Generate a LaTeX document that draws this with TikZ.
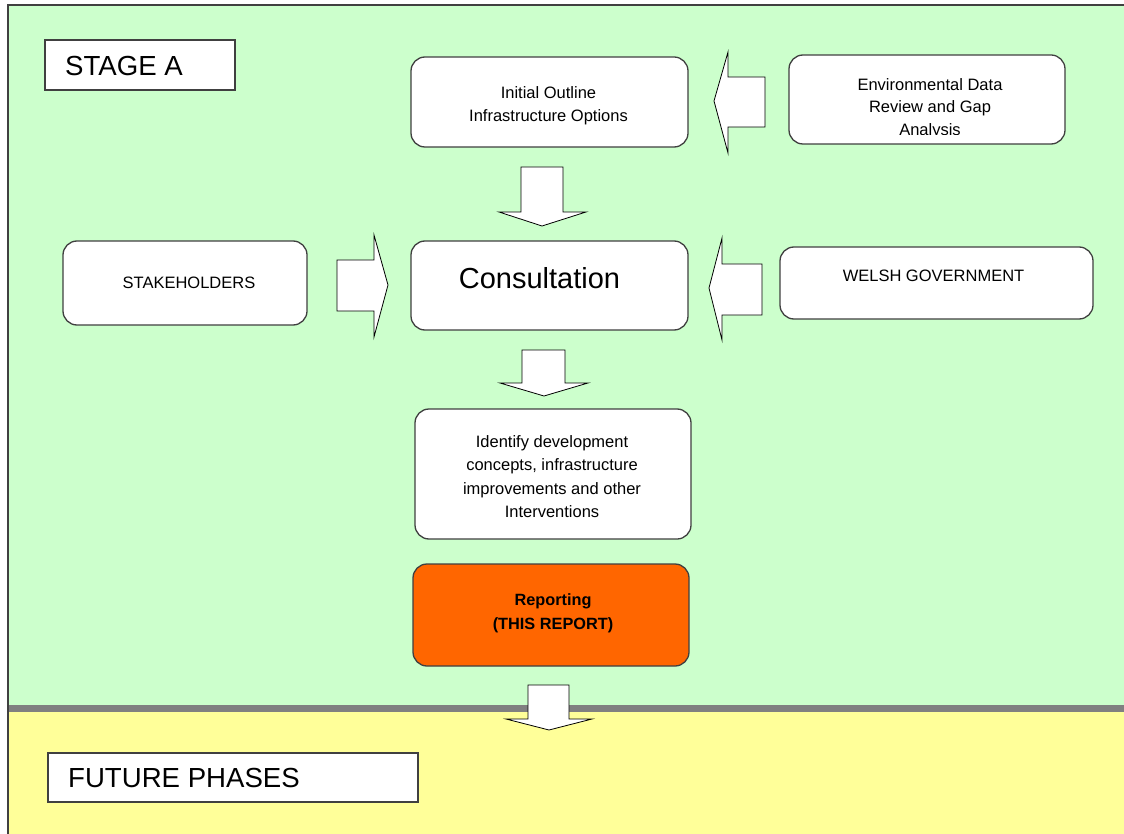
\documentclass[tikz,border=0pt]{standalone}
\usepackage{fontspec}
\setmainfont{Liberation Sans}
\definecolor{bggreen}{HTML}{CCFFCC}
\definecolor{bgyellow}{HTML}{FFFF99}
\definecolor{orangebox}{HTML}{FF6600}
\definecolor{edgegray}{HTML}{404040}
\definecolor{bandgray}{HTML}{808080}
\tikzset{
  rbox/.style={draw=edgegray, line width=1.3pt, fill=white, rounded corners=14pt, inner sep=0pt},
  sbox/.style={draw=edgegray, line width=1.3pt, fill=white, inner sep=0pt},
  small/.style={font=\fontsize{16.5}{22.5}\selectfont, align=center, inner sep=0pt},
  big/.style={font=\fontsize{27.6}{30}\selectfont, inner sep=0pt, anchor=west},
  barrow/.style={draw=black, line width=0.8pt, fill=white, line join=miter}
}
\begin{document}
\begin{tikzpicture}[x=1pt, y=-1pt]
\useasboundingbox (0,0) rectangle (1124,834);
\fill[white] (0,0) rectangle (1124,834);
% backgrounds
\fill[bggreen] (8,5) rectangle (1124,708);
\fill[bgyellow] (8,708) rectangle (1124,834);
\fill[bandgray] (8,704.5) rectangle (1124,712);
\draw[edgegray, line width=2pt] (1124,5) -- (8,5) -- (8,834);

% title boxes
\node[sbox, minimum width=190pt, minimum height=50pt] (stagebox) at (140,65) {};
\node[big] (stagetxt) at (65,66.5) {STAGE A};
\node[sbox, minimum width=370pt, minimum height=49pt] (futurebox) at (233,777.5) {};
\node[big] (futuretxt) at (68,778) {FUTURE PHASES};

% process boxes
\node[rbox, minimum width=277pt, minimum height=90pt] (init) at (549.5,102) {};
\node[small] (inittxt) at (548.5,105.5) {Initial Outline\\Infrastructure Options};

\node[rbox, minimum width=276pt, minimum height=89pt] (env) at (927,99.5) {};
\begin{scope}
  \clip (789,55) rectangle (1065,135);
  \node[small] (envtxt) at (930,108.5) {Environmental Data\\Review and Gap\\Analysis};
\end{scope}

\node[rbox, minimum width=244pt, minimum height=84pt] (stake) at (185,283) {};
\node[small] (staketxt) at (189,283) {STAKEHOLDERS};

\node[rbox, minimum width=277pt, minimum height=89pt] (cons) at (549.5,285.5) {};
\node[inner sep=0pt, font=\fontsize{29}{32}\selectfont] (constxt) at (539.5,278) {Consultation};

\node[rbox, minimum width=313pt, minimum height=72pt] (welsh) at (936.5,283) {};
\node[small] (welshtxt) at (933.5,276) {WELSH GOVERNMENT};

\node[rbox, minimum width=276pt, minimum height=130pt] (ident) at (553,474) {};
\node[small, font=\fontsize{16.5}{23.5}\selectfont] (identtxt) at (552,476.5)
  {Identify development\\concepts, infrastructure\\improvements and other\\Interventions};

\node[rbox, fill=orangebox, minimum width=276pt, minimum height=102pt] (report) at (551,615) {};
\node[small, font=\bfseries\fontsize{16.3}{24}\selectfont] (reporttxt) at (553,613)
  {Reporting\\(THIS REPORT)};

% block arrows (connectors)
\draw[barrow] (521,167) -- (563,167) -- (563,212) -- (586,212) -- (542,226) -- (499,212) -- (521,212) -- cycle;
\draw[barrow] (765,77) -- (765,127) -- (728,127) -- (728,153) -- (714,101) -- (728,52) -- (728,77) -- cycle;
\draw[barrow] (337,260) -- (374,260) -- (374,235) -- (388,285) -- (374,337) -- (374,311) -- (337,311) -- cycle;
\draw[barrow] (762,264) -- (762,315) -- (722,315) -- (722,340) -- (709,288) -- (722,238) -- (722,264) -- cycle;
\draw[barrow] (522,350) -- (565,350) -- (565,383) -- (588,383) -- (544,396) -- (500,383) -- (522,383) -- cycle;
\draw[barrow] (528,685) -- (569,685) -- (569,719) -- (592,719) -- (549,730) -- (506,719) -- (528,719) -- cycle;
\end{tikzpicture}
\end{document}
